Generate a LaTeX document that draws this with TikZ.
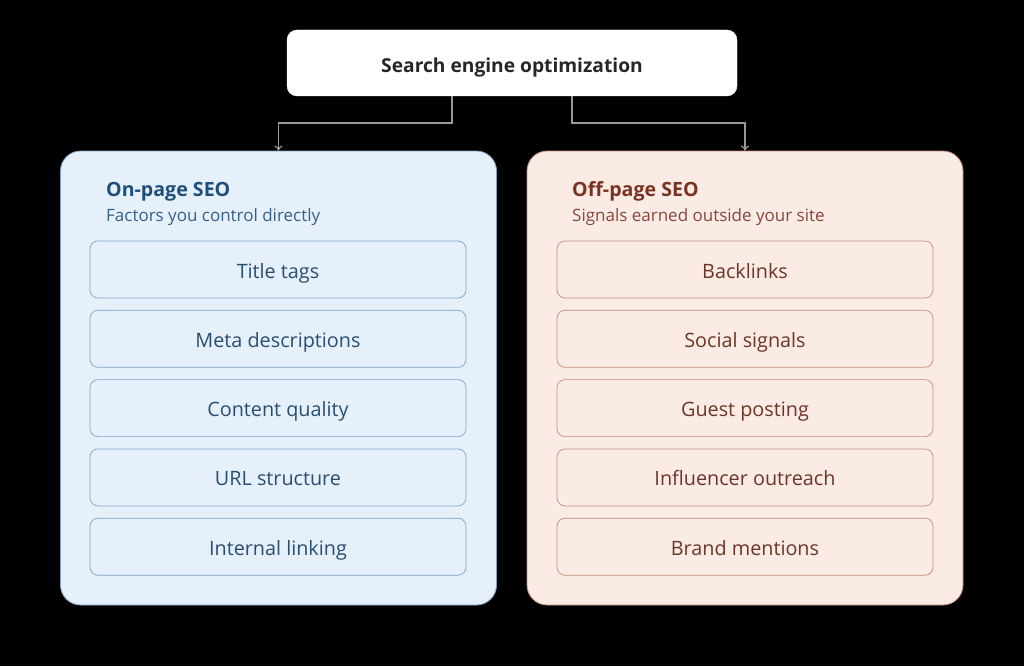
\documentclass[tikz,border=0pt]{standalone}
\usepackage{fontspec}
\setmainfont{Open Sans}
\usetikzlibrary{arrows.meta,positioning}
\definecolor{bluefill}{HTML}{E5F0FB}
\definecolor{blueline}{HTML}{7FA2C6}
\definecolor{bluetext}{HTML}{1F4E7A}
\definecolor{blueitem}{HTML}{2A4E70}
\definecolor{redfill}{HTML}{FBEBE5}
\definecolor{redline}{HTML}{C38B7A}
\definecolor{redtext}{HTML}{7A3322}
\definecolor{reditem}{HTML}{6E3426}
\definecolor{conn}{HTML}{999999}
\tikzset{
  x=1pt,y=-1pt,
  rootbox/.style={draw=white,fill=white,rounded corners=10pt,minimum width=450pt,minimum height=66pt,inner sep=0pt,font=\fontsize{19.2}{21}\selectfont\bfseries,text=black!85,text height=23pt,text depth=4pt},
  panel/.style={rounded corners=20pt,line width=0.8pt,minimum width=436pt,minimum height=454pt,inner sep=0pt},
  bluepanel/.style={panel,draw=blueline,fill=bluefill},
  redpanel/.style={panel,draw=redline,fill=redfill},
  itembox/.style={rounded corners=8pt,line width=0.7pt,minimum width=376pt,minimum height=57pt,inner sep=0pt,font=\fontsize{19.8}{22}\selectfont,text height=21pt,text depth=4pt},
  blueitembox/.style={itembox,draw=blueline,text=blueitem},
  reditembox/.style={itembox,draw=redline,text=reditem},
  ttl/.style={anchor=base west,inner sep=0pt,font=\fontsize{19.6}{21}\selectfont\bfseries},
  sub/.style={anchor=base west,inner sep=0pt,font=\fontsize{17}{18}\selectfont},
  connector/.style={draw=conn,line width=1.2pt,-{To[length=5pt,width=8pt]}},
}
\begin{document}
\begin{tikzpicture}
\fill[black] (0,0) rectangle (1024,666);
\useasboundingbox (0,0) rectangle (1024,666);
\node[rootbox] (root) at (512,63) {Search engine optimization};
\node[bluepanel] (left) at (278.5,378) {};
\node[redpanel] (right) at (745,378) {};
\node[ttl,text=bluetext] (lt) at (106,196.5) {On-page SEO};
\node[sub,text=bluetext!90] (ls) at (106,221) {Factors you control directly};
\node[ttl,text=redtext] (rt) at (572,196.5) {Off-page SEO};
\node[sub,text=redtext!90] (rs) at (572,221) {Signals earned outside your site};
\node[blueitembox] (l1) at (278,269.5) {Title tags};
\node[blueitembox] (l2) at (278,338.8) {Meta descriptions};
\node[blueitembox] (l3) at (278,408.1) {Content quality};
\node[blueitembox] (l4) at (278,477.4) {URL structure};
\node[blueitembox] (l5) at (278,546.7) {Internal linking};
\node[reditembox] (r1) at (745,269.5) {Backlinks};
\node[reditembox] (r2) at (745,338.8) {Social signals};
\node[reditembox] (r3) at (745,408.1) {Guest posting};
\node[reditembox] (r4) at (745,477.4) {Influencer outreach};
\node[reditembox] (r5) at (745,546.7) {Brand mentions};
\coordinate (la) at (452,96);
\coordinate (ra) at (572,96);
\draw[connector] (la) |- (278.5,123) -- (left.north);
\draw[connector] (ra) |- (745,123) -- (right.north);
\end{tikzpicture}
\end{document}
